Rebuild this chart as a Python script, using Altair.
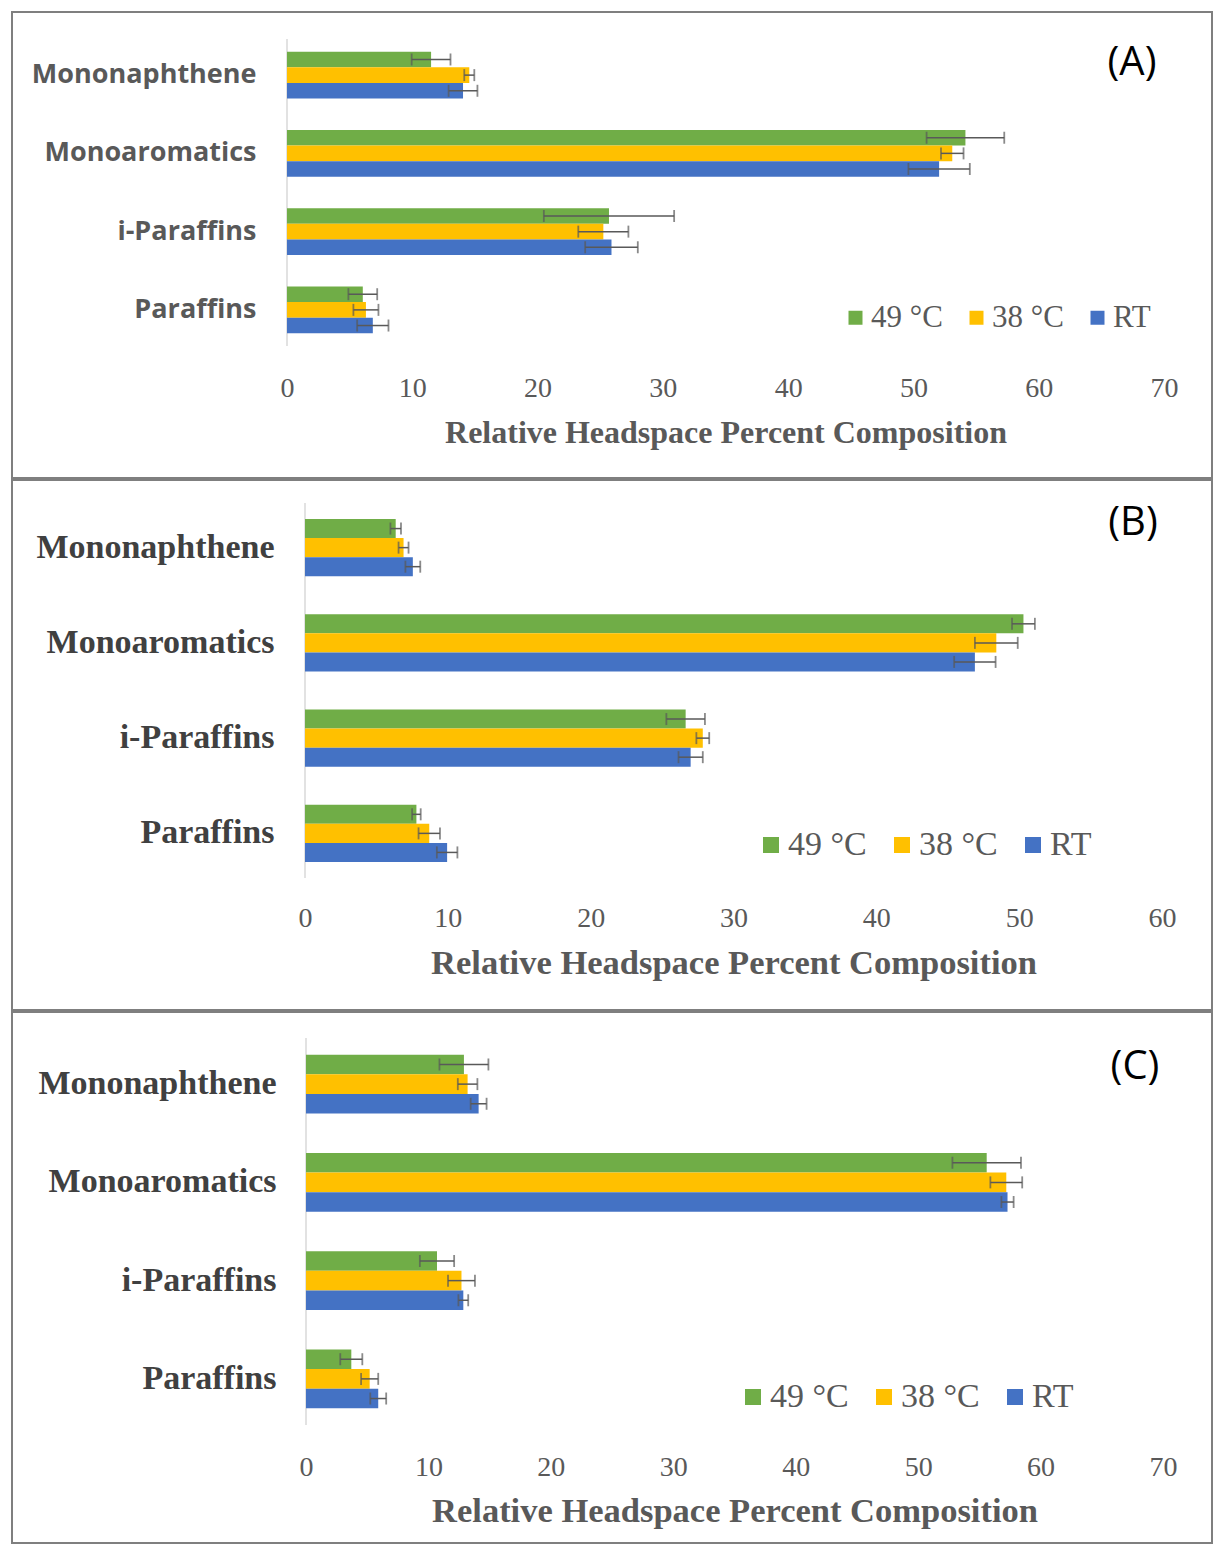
import altair as alt
import pandas as pd

categories = ["Mononaphthene", "Monoaromatics", "i-Paraffins", "Paraffins"]
series = ["49 °C", "38 °C", "RT"]
colors = ["#70AD47", "#FFC000", "#4472C4"]

# Panel A
A_49 = [11.5, 54.15, 25.7, 6.05]
A_49_err = [1.55, 3.1, 5.2, 1.15]
A_38 = [14.55, 53.1, 25.25, 6.3]
A_38_err = [0.4, 0.9, 2.0, 1.0]
A_RT = [14.05, 52.05, 25.9, 6.85]
A_RT_err = [1.15, 2.45, 2.1, 1.25]

# Panel B
B_49 = [6.35, 50.3, 26.65, 7.8]
B_49_err = [0.37, 0.8, 1.35, 0.3]
B_38 = [6.9, 48.4, 27.85, 8.7]
B_38_err = [0.35, 1.5, 0.45, 0.75]
B_RT = [7.55, 46.9, 27.0, 9.95]
B_RT_err = [0.52, 1.45, 0.85, 0.72]

# Panel C
C_49 = [12.9, 55.6, 10.7, 3.7]
C_49_err = [2.0, 2.8, 1.4, 0.9]
C_38 = [13.2, 57.2, 12.7, 5.2]
C_38_err = [0.8, 1.3, 1.1, 0.7]
C_RT = [14.1, 57.3, 12.85, 5.9]
C_RT_err = [0.65, 0.5, 0.4, 0.65]

x_title = "Relative Headspace Percent Composition"
W = 877


def make_df(vals, errs):
    rows = []
    for s, v, e in zip(series, vals, errs):
        for c, vv, ee in zip(categories, v, e):
            rows.append({"cat": c, "series": s, "value": vv, "lo": vv - ee, "hi": vv + ee})
    return pd.DataFrame(rows)


def panel(df, label, xmax, xrange, height, box, legend_xy, label_xy,
          ylab_font, ylab_size, ylab_color, ylab_pad,
          tick_size, title_size, leg_size, sym_size, lab_y, title_y):
    base = alt.Chart(df)
    y_enc = alt.Y("cat:N", sort=categories,
                  scale=alt.Scale(paddingInner=0.4, paddingOuter=0.2),
                  axis=alt.Axis(title=None, ticks=False, domain=False,
                                labelFont=ylab_font, labelFontSize=ylab_size,
                                labelFontWeight="bold", labelColor=ylab_color,
                                labelPadding=ylab_pad, labelLimit=400))
    y_off = alt.YOffset("series:N", sort=series,
                        scale=alt.Scale(domain=series, paddingInner=0, paddingOuter=0))
    x_scale = alt.Scale(domain=[0, xmax], range=xrange, nice=False)
    x_axis = alt.Axis(title=x_title, values=list(range(0, xmax + 1, 10)), grid=False, domain=False,
                      ticks=False, labelFont="Liberation Serif", labelFontSize=tick_size,
                      labelColor="#595959", labelBaseline="middle", labelPadding=lab_y,
                      titleFont="Liberation Serif", titleFontSize=title_size, titleFontWeight="bold",
                      titleColor="#595959", titleBaseline="middle", titleY=title_y,
                      titleX=(xrange[0] + xrange[1]) / 2, titleAnchor="middle", labelFlush=False)
    bars = base.mark_bar().encode(
        x=alt.X("value:Q", scale=x_scale, axis=x_axis),
        y=y_enc,
        yOffset=y_off,
        color=alt.Color("series:N", sort=series,
                        scale=alt.Scale(domain=series, range=colors),
                        legend=alt.Legend(title=None, orient="none", direction="horizontal",
                                          columns=3, legendX=legend_xy[0], legendY=legend_xy[1],
                                          symbolType="square", symbolSize=sym_size,
                                          symbolStrokeWidth=0, symbolOpacity=1,
                                          labelFont="Liberation Serif", labelFontSize=leg_size,
                                          labelColor="#595959", labelOffset=0, columnPadding=18,
                                          labelLimit=300)),
    )
    rules = base.mark_rule(color="#595959", strokeWidth=1.5).encode(
        x="lo:Q", x2="hi:Q", y=alt.Y("cat:N", sort=categories), yOffset=y_off)
    caps_lo = base.mark_tick(color="#595959", thickness=1.8, size=12).encode(
        x="lo:Q", y=alt.Y("cat:N", sort=categories), yOffset=y_off)
    caps_hi = base.mark_tick(color="#595959", thickness=1.8, size=12).encode(
        x="hi:Q", y=alt.Y("cat:N", sort=categories), yOffset=y_off)
    one = pd.DataFrame({"t": [label]})
    axis_line = alt.Chart(one).mark_rule(color="#D9D9D9", strokeWidth=1.5).encode(
        x=alt.datum(0), y=alt.value(3), y2=alt.value(height - 3))
    txt = alt.Chart(one).mark_text(font="Open Sans", fontSize=40, color="#000000",
                                   align="center", baseline="middle").encode(
        text="t:N", x=alt.value(label_xy[0]), y=alt.value(label_xy[1]))
    border = alt.Chart(one).mark_rect(fillOpacity=0, stroke="#7F7F7F", strokeWidth=2).encode(
        x=alt.value(box[0]), x2=alt.value(box[1]), y=alt.value(box[2]), y2=alt.value(box[3]))
    return alt.layer(border, axis_line, bars, rules, caps_lo, caps_hi, txt).properties(
        width=W, height=height)


pA = panel(make_df([A_49, A_38, A_RT], [A_49_err, A_38_err, A_RT_err]), "(A)", 70, [0, 877], 313,
           (-275, 925, -24, 442), (553, 266), (845, 27),
           "Open Sans", 27, "#595959", 31, 28, 32, 31, 196, 39, 83)
pB = panel(make_df([B_49, B_38, B_RT], [B_49_err, B_38_err, B_RT_err]), "(B)", 60, [18, 875], 381,
           (-275, 925, -20, 510), (467, 328), (846, 23),
           "Liberation Serif", 34, "#404040", 13, 28, 34.5, 34, 256, 37, 82)
pC = panel(make_df([C_49, C_38, C_RT], [C_49_err, C_38_err, C_RT_err]), "(C)", 70, [19, 876], 393,
           (-275, 925, -23, 508), (449, 345), (848, 32),
           "Liberation Serif", 34, "#404040", 11, 28, 34.5, 34, 256, 39, 83)

chart = alt.vconcat(pA, pB, pC, spacing=0).resolve_scale(
    x="independent", y="independent", color="independent", yOffset="independent"
).resolve_legend(color="independent").resolve_axis(x="independent", y="independent").properties(
    padding={"left": 3, "top": 3, "right": 0, "bottom": 0}
).configure_view(stroke=None)

chart.save("out.html", embed_options={"renderer": "svg", "actions": False})
